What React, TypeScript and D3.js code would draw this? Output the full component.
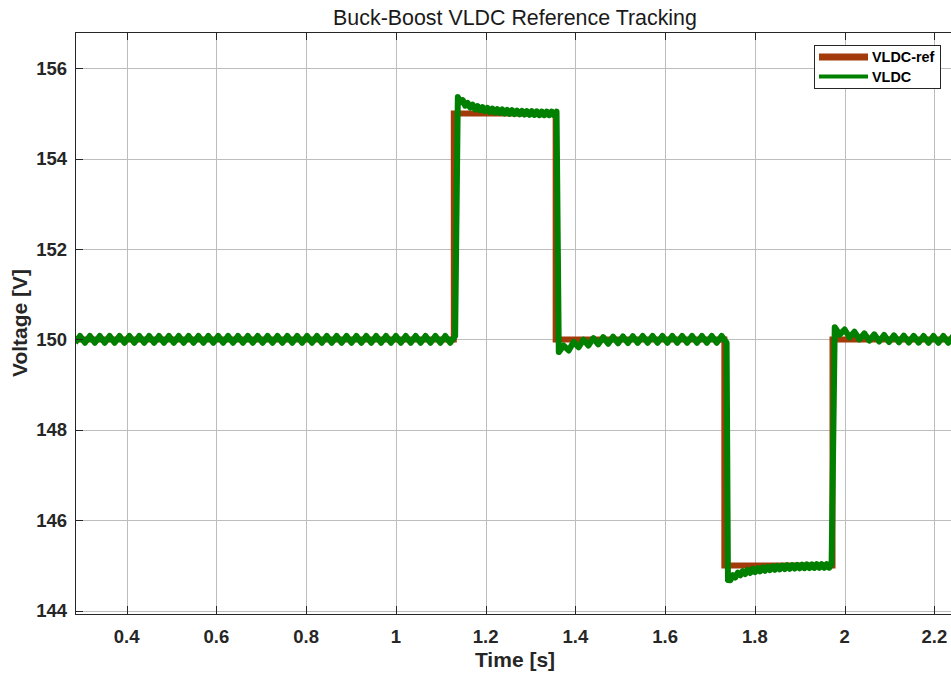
import React, { useEffect, useRef } from 'react';
import * as d3 from 'd3';

// axis ticks
const xTicks = [0.4, 0.6, 0.8, 1, 1.2, 1.4, 1.6, 1.8, 2, 2.2];
const yTicks = [144, 146, 148, 150, 152, 154, 156];

// VLDC-ref: step reference (level holds until next time)
const refTimes = [0.285, 1.129, 1.356, 1.732, 1.973, 2.26];
const refLevels = [150, 155, 150, 145, 150, 150];

// VLDC: measured voltage, sampled per segment (ripple visible as zig-zag)
const rippleStep = 0.011; // half switching period [s]
const fineStep = 0.0055;

const vldcSteady = [
  149.925, 150.075, 149.925, 150.075, 149.925, 150.075, 149.925, 150.075, 149.925, 150.075,
  149.925, 150.075, 149.925, 150.075, 149.925, 150.075, 149.925, 150.075, 149.925, 150.075,
  149.925, 150.075, 149.925, 150.075, 149.925, 150.075, 149.925, 150.075, 149.925, 150.075,
  149.925, 150.075, 149.925, 150.075, 149.925, 150.075, 149.925, 150.075, 149.925, 150.075,
  149.925, 150.075, 149.925, 150.075, 149.925, 150.075, 149.925, 150.075, 149.925, 150.075,
  149.925, 150.075, 149.925, 150.075, 149.925, 150.075, 149.925, 150.075, 149.925, 150.075,
  149.925, 150.075, 149.925, 150.075, 149.925, 150.075, 149.925, 150.075, 149.925, 150.075,
  149.925, 150.075, 149.925, 150.075, 149.925, 150.075, 149.925, 150.075,
];
const vldcHigh = [
  155.36, 155.24, 155.29, 155.17, 155.23, 155.13, 155.19, 155.09, 155.16, 155.07,
  155.14, 155.05, 155.12, 155.03, 155.105, 155.02, 155.095, 155.01, 155.085, 155.0,
  155.075, 154.99, 155.07, 154.985, 155.06, 154.98, 155.055, 154.975, 155.05, 154.97,
  155.05, 154.965, 155.045, 154.96, 155.04, 154.96, 155.04, 154.96, 155.04, 154.96,
  155.04,
];
const vldcMid = [
  149.72, 149.865, 149.755, 149.945, 149.825, 149.995, 149.865, 150.03, 149.89, 150.05,
  149.905, 150.06, 149.915, 150.065, 149.92, 150.07, 149.925, 150.075, 149.925, 150.075,
  149.925, 150.075, 149.925, 150.075, 149.925, 150.075, 149.925, 150.075, 149.925, 150.075,
  149.925, 150.075, 149.925, 150.075, 149.925,
];
const vldcLow = [
  144.68, 144.675, 144.785, 144.735, 144.84, 144.783, 144.877, 144.811, 144.903, 144.834,
  144.924, 144.854, 144.942, 144.87, 144.957, 144.884, 144.97, 144.896, 144.981, 144.906,
  144.99, 144.914, 144.998, 144.921, 145.005, 144.927, 145.01, 144.932, 145.015, 144.937,
  145.019, 144.94, 145.022, 144.943, 145.025, 144.946, 145.027, 144.948, 145.029, 144.95,
  145.031, 144.951, 145.032,
];
const vldcEnd = [
  150.27, 150.105, 150.22, 150.045, 150.17, 150.0, 150.135, 149.973, 150.113, 149.955,
  150.099, 149.944, 150.09, 149.937, 150.084, 149.932, 150.08, 149.929, 150.075, 149.925,
  150.075, 149.925, 150.075, 149.925, 150.075, 149.925,
];

const vldcSegments = [
  { t0: 0.285, dt: rippleStep, values: vldcSteady },
  { t0: 1.138, dt: fineStep, values: vldcHigh },
  { t0: 1.363, dt: rippleStep, values: vldcMid },
  { t0: 1.74, dt: fineStep, values: vldcLow },
  { t0: 1.978, dt: rippleStep, values: vldcEnd },
];

const W = 951;
const H = 677;
const margin = { top: 32, right: -4, bottom: 63, left: 75 };

const refColor = '#a33a0a';
const vldcColor = '#008000';
const axisColor = '#262626';
const gridColor = '#bdbdbd';
const font = '"Liberation Sans", Arial, Helvetica, sans-serif';

type Pt = { t: number; v: number };

const App: React.FC = () => {
  const svgRef = useRef<SVGSVGElement>(null);

  useEffect(() => {
    if (!svgRef.current) return;
    const svg = d3.select(svgRef.current);
    svg.selectAll('*').remove();

    const x0 = margin.left;
    const x1 = W - margin.right;
    const y0 = margin.top;
    const y1 = H - margin.bottom;

    const x = d3.scaleLinear().domain([0.2848, 2.246]).range([x0, x1]);
    const y = d3.scaleLinear().domain([143.927, 156.8]).range([y1, y0]);

    svg.append('rect').attr('width', W).attr('height', H).attr('fill', '#fff');

    svg
      .append('defs')
      .append('clipPath')
      .attr('id', 'plot-clip')
      .append('rect')
      .attr('x', x0)
      .attr('y', y0)
      .attr('width', x1 - x0)
      .attr('height', y1 - y0);

    // grid
    const grid = svg.append('g').attr('stroke', gridColor).attr('stroke-width', 1);
    grid
      .selectAll('.gx')
      .data(xTicks)
      .enter()
      .append('line')
      .attr('x1', d => Math.round(x(d)) + 0.5)
      .attr('x2', d => Math.round(x(d)) + 0.5)
      .attr('y1', y0)
      .attr('y2', y1);
    grid
      .selectAll('.gy')
      .data(yTicks)
      .enter()
      .append('line')
      .attr('x1', x0)
      .attr('x2', x1)
      .attr('y1', d => Math.round(y(d)) + 0.5)
      .attr('y2', d => Math.round(y(d)) + 0.5);

    // data
    const refData: Pt[] = refTimes.map((t, i) => ({ t, v: refLevels[i] }));
    const vldcData: Pt[] = [];
    vldcSegments.forEach(seg => {
      seg.values.forEach((v, i) => vldcData.push({ t: seg.t0 + i * seg.dt, v }));
    });

    const line = d3
      .line<Pt>()
      .x(d => x(d.t))
      .y(d => y(d.v));

    const plot = svg.append('g').attr('clip-path', 'url(#plot-clip)');
    plot
      .append('path')
      .datum(refData)
      .attr('d', line.curve(d3.curveStepAfter))
      .attr('fill', 'none')
      .attr('stroke', refColor)
      .attr('stroke-width', 6)
      .attr('stroke-linejoin', 'miter');
    plot
      .append('path')
      .datum(vldcData)
      .attr('d', line.curve(d3.curveLinear))
      .attr('fill', 'none')
      .attr('stroke', vldcColor)
      .attr('stroke-width', 6)
      .attr('stroke-linejoin', 'round');

    // axes box (right edge falls outside the picture)
    const axes = svg.append('g').attr('stroke', axisColor).attr('stroke-width', 1).attr('fill', 'none');
    axes.append('line').attr('x1', x0 + 0.5).attr('x2', x0 + 0.5).attr('y1', y0).attr('y2', y1 + 0.5);
    axes.append('line').attr('x1', x0).attr('x2', x1).attr('y1', y0 + 0.5).attr('y2', y0 + 0.5);
    axes.append('line').attr('x1', x0).attr('x2', x1).attr('y1', y1 + 0.5).attr('y2', y1 + 0.5);

    const tickLen = 8;
    xTicks.forEach(d => {
      const px = Math.round(x(d)) + 0.5;
      axes.append('line').attr('x1', px).attr('x2', px).attr('y1', y1).attr('y2', y1 - tickLen);
      axes.append('line').attr('x1', px).attr('x2', px).attr('y1', y0).attr('y2', y0 + tickLen);
    });
    yTicks.forEach(d => {
      const py = Math.round(y(d)) + 0.5;
      axes.append('line').attr('x1', x0).attr('x2', x0 + tickLen).attr('y1', py).attr('y2', py);
    });

    // tick labels
    svg
      .append('g')
      .selectAll('text')
      .data(xTicks)
      .enter()
      .append('text')
      .attr('x', d => x(d))
      .attr('y', y1 + 29)
      .attr('text-anchor', 'middle')
      .attr('font-family', font)
      .attr('font-size', 18.5)
      .attr('font-weight', 'bold')
      .attr('fill', axisColor)
      .text(d => d3.format('~g')(d));

    svg
      .append('g')
      .selectAll('text')
      .data(yTicks)
      .enter()
      .append('text')
      .attr('x', x0 - 8)
      .attr('y', d => y(d) + 6.5)
      .attr('text-anchor', 'end')
      .attr('font-family', font)
      .attr('font-size', 18.5)
      .attr('font-weight', 'bold')
      .attr('fill', axisColor)
      .text(d => String(d));

    // labels + title
    svg
      .append('text')
      .attr('x', (x0 + x1) / 2)
      .attr('y', 667)
      .attr('text-anchor', 'middle')
      .attr('font-family', font)
      .attr('font-size', 21)
      .attr('font-weight', 'bold')
      .attr('fill', axisColor)
      .text('Time [s]');

    svg
      .append('text')
      .attr('transform', `translate(27,${(y0 + y1) / 2}) rotate(-90)`)
      .attr('text-anchor', 'middle')
      .attr('font-family', font)
      .attr('font-size', 21)
      .attr('font-weight', 'bold')
      .attr('fill', axisColor)
      .text('Voltage [V]');

    svg
      .append('text')
      .attr('x', (x0 + x1) / 2)
      .attr('y', 25)
      .attr('text-anchor', 'middle')
      .attr('font-family', font)
      .attr('font-size', 21.4)
      .attr('fill', '#1a1a1a')
      .text('Buck-Boost VLDC Reference Tracking');

    // legend
    const lg = svg.append('g').attr('transform', 'translate(814,45)');
    lg.append('rect')
      .attr('x', 0.5)
      .attr('y', 0.5)
      .attr('width', 126)
      .attr('height', 43)
      .attr('fill', '#fff')
      .attr('stroke', axisColor)
      .attr('stroke-width', 1);
    const items = [
      { name: 'VLDC-ref', color: refColor, width: 7 },
      { name: 'VLDC', color: vldcColor, width: 4 },
    ];
    items.forEach((it, i) => {
      const cy = 12 + i * 19.5;
      lg.append('line')
        .attr('x1', 5)
        .attr('x2', 54)
        .attr('y1', cy)
        .attr('y2', cy)
        .attr('stroke', it.color)
        .attr('stroke-width', it.width);
      lg.append('text')
        .attr('x', 58)
        .attr('y', cy + 5)
        .attr('font-family', font)
        .attr('font-size', 14.4)
        .attr('font-weight', 'bold')
        .attr('fill', '#000')
        .text(it.name);
    });
  }, []);

  return (
    <svg
      ref={svgRef}
      width={W}
      height={H}
      style={{ position: 'absolute', left: 0, top: 0, display: 'block' }}
    />
  );
};

export default App;
